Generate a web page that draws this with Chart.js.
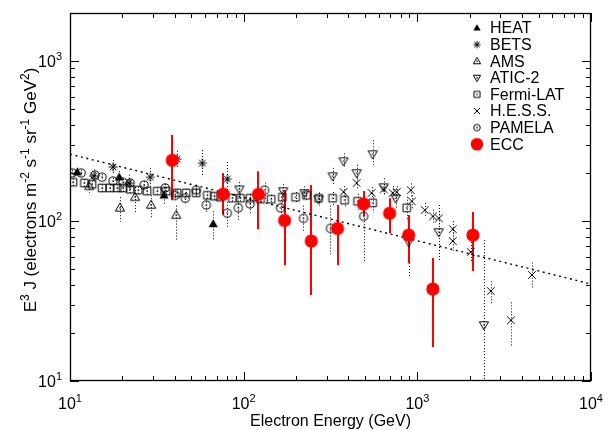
<!DOCTYPE html>
<html><head><meta charset="utf-8">
<script src="https://cdn.jsdelivr.net/npm/chart.js@4/dist/chart.umd.min.js"></script>
<style>html,body{margin:0;padding:0;background:#fff}#wrap{width:612px;height:430px}</style>
</head><body><div id="wrap"><canvas id="c" width="612" height="430"></canvas></div>
<script>
// ---------- data ----------
const xTickVals = [10, 100, 1000, 10000];
const xTickExp  = ['1', '2', '3', '4'];
const yTickVals = [10, 100, 1000];
const yTickExp  = ['1', '2', '3'];
const seriesNames = ['HEAT', 'BETS', 'AMS', 'ATIC-2', 'Fermi-LAT', 'H.E.S.S.', 'PAMELA', 'ECC'];

const heatE  = [11.0, 19.2, 34.8, 66.8];
const heatJ  = [202, 188, 145, 96];
const heatLo = [190, 172, 128, 76];
const heatHi = [215, 205, 162, 115];

const betsE  = [13.7, 17.7, 21.9, 29.0, 41.4, 57.8, 80.5];
const betsJ  = [191, 218, 173, 188, 244, 230, 183];
const betsLo = [175, 195, 150, 160, 215, 188, 150];
const betsHi = [210, 240, 195, 215, 275, 278, 234];

const amsE  = [12.9, 19.4, 23.7, 29.3, 40.9];
const amsJ  = [165, 121, 141, 126, 109];
const amsLo = [150, 99, 113, 104, 76];
const amsHi = [180, 141, 163, 145, 125];

const aticE  = [94.5, 169, 224, 270, 325, 376, 447, 553, 640, 750, 891, 1327, 2416];
const aticJ  = [158, 154, 150, 137, 191, 237, 200, 262, 163, 139, 74, 85.4, 22.4];
const aticLo = [140, 135, 138, 125, 170, 215, 180, 224, 145, 120, 45, 57, 5];
const aticHi = [175, 170, 165, 150, 215, 265, 225, 320, 185, 160, 100, 126, 76];

const fermiE  = [10.4, 12.1, 13.4, 15.3, 17.0, 18.7, 20.2, 22.2, 24.7, 27.8, 31.8, 35.8, 41.4, 46.7, 53.3, 61.8, 67.8, 73.4, 86.1, 95.8, 109, 125, 144, 167, 199, 230, 270, 325, 381, 453, 553, 869];
const fermiJ  = [175, 173, 170, 161, 161, 161, 161, 158, 156, 154, 154, 154, 150, 150, 150, 145, 143, 141, 139, 139, 139, 137, 137, 141, 141, 145, 139, 139, 135, 133, 130, 121];
const fermiLo = [166, 164, 161, 153, 153, 153, 153, 150, 148, 146, 146, 146, 142, 142, 142, 137, 135, 133, 131, 131, 131, 129, 128, 131, 130, 133, 127, 126, 121, 118, 113, 100];
const fermiHi = [184, 182, 179, 169, 169, 169, 169, 166, 164, 162, 162, 162, 158, 158, 158, 153, 151, 149, 147, 147, 147, 145, 146, 151, 152, 157, 151, 152, 149, 148, 147, 142];

const hessE  = [376, 447, 545, 640, 721, 761, 916, 929, 1104, 1228, 1328, 1600, 1600, 2031, 2650, 3459, 4571];
const hessJ  = [152, 173, 150, 158, 150, 152, 156, 133, 117, 107, 104, 89, 75, 64, 36.5, 24, 46];
const hessLo = [140, 160, 138, 145, 135, 140, 140, 120, 105, 96, 93, 80, 65, 55, 30, 16.3, 38];
const hessHi = [165, 185, 163, 170, 165, 165, 172, 145, 130, 118, 115, 100, 85, 74, 42, 31, 55];

const pamE  = [10.3, 11.6, 13.9, 15.3, 17.7, 20.2, 22.2, 26.7, 35.3, 40.4, 46.1, 53.3, 60.9, 80.5, 93.1, 109, 132, 163, 221, 316, 491];
const pamJ  = [200, 200, 194, 188, 178, 175, 173, 168, 161, 145, 139, 156, 126, 112, 121, 128, 156, 121, 104, 90, 107];
const pamLo = [192, 192, 186, 180, 170, 167, 165, 159, 151, 135, 128, 143, 114, 92, 102, 110, 138, 101, 85, 62, 55];
const pamHi = [208, 208, 202, 196, 186, 183, 181, 177, 171, 155, 150, 169, 138, 132, 140, 147, 174, 142, 125, 125, 135];

const eccE  = [38.8, 76.4, 121.6, 172, 245, 347, 490, 692, 891, 1228, 2090];
const eccJ  = [240, 147.5, 147, 101, 75, 90, 128, 112, 81.7, 37.6, 81.7];
const eccLo = [135, 110, 89, 53, 34.5, 53, 107, 84, 54.6, 16.3, 48.7];
const eccHi = [345, 200, 205, 156, 168, 126, 154, 139, 109, 58.7, 114];

const fitE = [10, 10000];
const fitJ = [262, 40.4];

// ---------- symbols ----------
const FONT = '"Liberation Sans", Arial, Helvetica, sans-serif';
function makeSym(kind, s) {
  const N = 18, c = document.createElement('canvas');
  c.width = N; c.height = N;
  const g = c.getContext('2d');
  g.translate(N / 2, N / 2);
  g.strokeStyle = '#000'; g.fillStyle = '#000'; g.lineWidth = 1;
  const dot = () => g.fillRect(-0.7, -0.7, 1.4, 1.4);
  g.beginPath();
  if (kind === 'triF' || kind === 'triO') {
    g.moveTo(0, -4.8 * s); g.lineTo(4.6 * s, 3.2 * s); g.lineTo(-4.6 * s, 3.2 * s); g.closePath();
    if (kind === 'triF') g.fill(); else { g.stroke(); dot(); }
  } else if (kind === 'triD') {
    g.moveTo(0, 4.8 * s); g.lineTo(4.6 * s, -3.2 * s); g.lineTo(-4.6 * s, -3.2 * s); g.closePath();
    g.stroke(); dot();
  } else if (kind === 'box') {
    g.rect(-3.8 * s, -3.8 * s, 7.6 * s, 7.6 * s); g.stroke(); dot();
  } else if (kind === 'circ') {
    g.arc(0, 0, 4.1 * s, 0, Math.PI * 2); g.stroke(); dot();
  } else if (kind === 'x') {
    const r = 3.8 * s;
    g.moveTo(-r, -r); g.lineTo(r, r); g.moveTo(-r, r); g.lineTo(r, -r); g.stroke();
  } else if (kind === 'ast') {
    const r = 4.5 * s, d = 3.3 * s;
    g.moveTo(0, -r); g.lineTo(0, r); g.moveTo(-r, 0); g.lineTo(r, 0);
    g.moveTo(-d, -d); g.lineTo(d, d); g.moveTo(-d, d); g.lineTo(d, -d); g.stroke();
  } else if (kind === 'ecc') {
    g.fillStyle = '#ff0000'; g.arc(0, 0, 6.6 * s, 0, Math.PI * 2); g.fill();
  }
  return c;
}
const kinds = ['triF', 'ast', 'triO', 'triD', 'box', 'x', 'circ', 'ecc'];
const symData = kinds.map(k => makeSym(k, 1));
const symLeg = kinds.map(k => makeSym(k, k === 'ecc' ? 0.95 : 0.8));

function pts(E, J) { return E.map((e, i) => ({ x: e, y: J[i] })); }
function ds(idx, E, J, lo, hi, order) {
  return {
    label: seriesNames[idx], data: pts(E, J), pointStyle: symData[idx],
    showLine: false, order: order, errLo: lo, errHi: hi, errRed: idx === 7
  };
}

const datasets = [
  ds(0, heatE, heatJ, heatLo, heatHi, 8),
  ds(1, betsE, betsJ, betsLo, betsHi, 7),
  ds(2, amsE, amsJ, amsLo, amsHi, 6),
  ds(3, aticE, aticJ, aticLo, aticHi, 5),
  ds(4, fermiE, fermiJ, fermiLo, fermiHi, 4),
  ds(5, hessE, hessJ, hessLo, hessHi, 3),
  ds(6, pamE, pamJ, pamLo, pamHi, 2),
  ds(7, eccE, eccJ, eccLo, eccHi, 0),
  {
    label: 'fit', type: 'line', data: pts(fitE, fitJ), borderColor: '#000', borderWidth: 1.4,
    borderDash: [2, 3.6], pointRadius: 0, fill: false, order: 9
  }
];

// ---------- helpers ----------
function partsWidth(ctx, parts, base, sup) {
  let w = 0;
  for (const [t, s] of parts) { ctx.font = (s ? sup : base) + 'px ' + FONT; w += ctx.measureText(t).width; }
  return w;
}
function drawParts(ctx, parts, x, y, base, sup, align) {
  const w = partsWidth(ctx, parts, base, sup);
  let cx = align === 'center' ? x - w / 2 : (align === 'right' ? x - w : x);
  ctx.textAlign = 'left'; ctx.textBaseline = 'alphabetic';
  for (const [t, s] of parts) {
    ctx.font = (s ? sup : base) + 'px ' + FONT;
    ctx.fillText(t, cx, s ? y - base * 0.42 : y);
    cx += ctx.measureText(t).width;
  }
}

const errPlugin = {
  id: 'errbars',
  beforeDatasetsDraw(chart) {
    const ctx = chart.ctx, xs = chart.scales.x, ys = chart.scales.y, ca = chart.chartArea;
    ctx.save();
    ctx.beginPath(); ctx.rect(ca.left, ca.top, ca.right - ca.left, ca.bottom - ca.top); ctx.clip();
    const sets = chart.data.datasets.filter(d => d.errLo);
    for (const red of [false, true]) {
      for (const d of sets) {
        if (d.errRed !== red) continue;
        if (red) { ctx.strokeStyle = '#ff0000'; ctx.lineWidth = 2; ctx.setLineDash([]); }
        else { ctx.strokeStyle = '#000'; ctx.lineWidth = 1; ctx.setLineDash([1, 2]); }
        d.data.forEach((p, i) => {
          const px = Math.round(xs.getPixelForValue(p.x)) + (red ? 0 : 0.5);
          ctx.beginPath();
          ctx.moveTo(px, ys.getPixelForValue(d.errHi[i]));
          ctx.lineTo(px, ys.getPixelForValue(d.errLo[i]));
          ctx.stroke();
        });
      }
    }
    ctx.restore();
  }
};

const framePlugin = {
  id: 'frame',
  afterDraw(chart) {
    const ctx = chart.ctx, xs = chart.scales.x, ys = chart.scales.y, ca = chart.chartArea;
    ctx.save();
    ctx.strokeStyle = '#000'; ctx.lineWidth = 1; ctx.setLineDash([]);
    const xt = [], yt = [];
    for (let i = 0; i < xTickVals.length; i++) {
      xt.push([xTickVals[i], 9]);
      if (i < xTickVals.length - 1) for (let m = 2; m <= 9; m++) xt.push([xTickVals[i] * m, 5]);
    }
    for (let i = 0; i < yTickVals.length; i++) {
      yt.push([yTickVals[i], 9]);
      for (let m = 2; m <= 9; m++) { const v = yTickVals[i] * m; if (v <= ys.max) yt.push([v, 5]); }
    }
    ctx.beginPath();
    for (const [v, L] of xt) {
      const px = Math.round(xs.getPixelForValue(v)) + 0.5;
      ctx.moveTo(px, ca.bottom); ctx.lineTo(px, ca.bottom - L);
      ctx.moveTo(px, ca.top); ctx.lineTo(px, ca.top + L);
    }
    for (const [v, L] of yt) {
      const py = Math.round(ys.getPixelForValue(v)) + 0.5;
      ctx.moveTo(ca.left, py); ctx.lineTo(ca.left + L, py);
      ctx.moveTo(ca.right, py); ctx.lineTo(ca.right - L, py);
    }
    ctx.stroke();
    ctx.lineWidth = 1.3;
    ctx.strokeRect(ca.left + 0.5, ca.top + 0.5, ca.right - ca.left - 1, ca.bottom - ca.top - 1);

    ctx.fillStyle = '#000';
    xTickVals.forEach((v, i) => {
      drawParts(ctx, [['10', false], [xTickExp[i], true]], xs.getPixelForValue(v), 409, 16, 11, 'center');
    });
    yTickVals.forEach((v, i) => {
      drawParts(ctx, [['10', false], [yTickExp[i], true]], 62, ys.getPixelForValue(v) + 6, 16, 11, 'right');
    });
    drawParts(ctx, [['Electron Energy (GeV)', false]], (ca.left + ca.right) / 2, 426, 16, 11, 'center');
    ctx.save();
    ctx.translate(36, 190);
    ctx.rotate(-Math.PI / 2);
    drawParts(ctx, [['E', false], ['3', true], [' J (electrons m', false], ['-2', true], [' s', false], ['-1', true],
      [' sr', false], ['-1', true], [' GeV', false], ['2', true], [')', false]], 0, 0, 17, 12, 'center');
    ctx.restore();

    for (let i = 0; i < seriesNames.length; i++) {
      const y = 28 + i * 16.6;
      const s = symLeg[i];
      ctx.drawImage(s, 477 - s.width / 2, y - s.height / 2);
      ctx.font = '16px ' + FONT; ctx.textAlign = 'left'; ctx.textBaseline = 'middle';
      ctx.fillText(seriesNames[i], 490, y + 1);
    }
    ctx.restore();
  }
};

new Chart(document.getElementById('c'), {
  type: 'scatter',
  data: { datasets },
  options: {
    responsive: false, animation: false, devicePixelRatio: 1,
    layout: { padding: { left: 70, right: 21, top: 13, bottom: 49 } },
    scales: {
      x: { type: 'logarithmic', min: 10, max: 10000, display: false },
      y: { type: 'logarithmic', min: 10, max: 2000, display: false }
    },
    plugins: { legend: { display: false }, tooltip: { enabled: false } },
    elements: { point: { radius: 4, hoverRadius: 4 } }
  },
  plugins: [errPlugin, framePlugin]
});
</script>
</body></html>
